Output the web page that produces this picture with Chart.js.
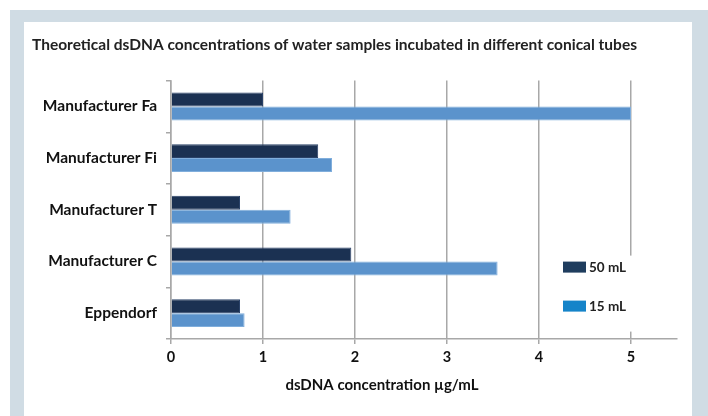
<!DOCTYPE html>
<html>
<head>
<meta charset="utf-8">
<script src="https://cdn.jsdelivr.net/npm/chart.js@4/dist/chart.umd.min.js"></script>
<style>
  html, body { margin:0; padding:0; background:#fff; }
  body { width:708px; height:416px; position:relative; overflow:hidden; }
  #frame { position:absolute; left:10px; top:10px; right:0; bottom:0; background:#d0dce4; }
  #panel { position:absolute; left:24px; top:22px; width:668px; height:394px; background:#fff; }
  canvas { display:block; }
</style>
</head>
<body>
<div id="frame"></div>
<div id="panel"><canvas id="chart" width="668" height="394"></canvas></div>
<script>
// data
const categories = ['Manufacturer Fa', 'Manufacturer Fi', 'Manufacturer T', 'Manufacturer C', 'Eppendorf'];
const series50 = [1.0, 1.6, 0.75, 1.96, 0.75];
const series15 = [5.0, 1.75, 1.3, 3.55, 0.8];
const seriesNames = ['50 mL', '15 mL'];
const xTickValues = [0, 1, 2, 3, 4, 5];
const xMax = 5.5;
const chartTitle = 'Theoretical dsDNA concentrations of water samples incubated in different conical tubes';
const xTitle = 'dsDNA concentration \u00b5g/mL';

const barColors = ['#1b3152', '#5b93cc'];
const barBorders = ['#2a4268', '#80aedc'];
const legendColors = ['#1f3d5e', '#1584c9'];
const gridColor = '#a8a8a8';
const FONT = 'Lato, "Open Sans", sans-serif';

// Excel-like legend sitting inside the plot, plus the x axis title
const overlay = {
  id: 'overlay',
  afterDraw(chart){
    const {ctx, chartArea:a} = chart;
    ctx.save();
    ctx.fillStyle = '#fff';
    ctx.fillRect(a.right - 125, a.top + 175, 98, 76);
    ctx.font = 'bold 13.5px ' + FONT;
    ctx.textBaseline = 'middle';
    ctx.textAlign = 'left';
    seriesNames.forEach((name, i) => {
      const y = a.top + 181 + i * 39;
      ctx.fillStyle = legendColors[i];
      ctx.fillRect(a.right - 114, y, 23, 11);
      ctx.fillStyle = '#222';
      ctx.fillText(name, a.right - 88, y + 6);
    });
    ctx.font = 'bold 15px ' + FONT;
    ctx.textAlign = 'center';
    ctx.fillStyle = '#111';
    ctx.fillText(xTitle, a.left + a.width * 0.417, a.bottom + 46);
    ctx.restore();
  }
};

new Chart(document.getElementById('chart').getContext('2d'), {
  type: 'bar',
  data: {
    labels: categories,
    datasets: [
      {label: seriesNames[0], data: series50, backgroundColor: barColors[0], borderColor: barBorders[0], borderWidth: 1},
      {label: seriesNames[1], data: series15, backgroundColor: barColors[1], borderColor: barBorders[1], borderWidth: 1}
    ]
  },
  options: {
    indexAxis: 'y',
    responsive: false,
    animation: false,
    categoryPercentage: 0.54,
    barPercentage: 1.0,
    layout: {padding: {left: 8, right: 15, top: 0, bottom: 0}},
    plugins: {
      legend: {display: false},
      tooltip: {enabled: false},
      title: {
        display: true,
        text: chartTitle,
        align: 'start',
        color: '#222',
        font: {family: FONT, size: 15.5, weight: 'bold'},
        padding: {top: 14, bottom: 26}
      }
    },
    scales: {
      x: {
        min: 0,
        max: xMax,
        afterBuildTicks(scale){ scale.ticks = xTickValues.map(v => ({value: v})); },
        afterFit(scale){ scale.height = 77; },
        grid: {color: gridColor, lineWidth: 1.5, drawTicks: true, tickLength: 5},
        border: {display: true, color: gridColor, width: 1.5},
        ticks: {color: '#111', padding: 5, font: {family: FONT, size: 14.5, weight: 'bold'}}
      },
      y: {
        afterFit(scale){ scale.width = 139; },
        grid: {drawOnChartArea: false, drawTicks: true, tickLength: 5, color: gridColor, lineWidth: 1.5},
        border: {display: true, color: gridColor, width: 1.5},
        ticks: {color: '#111', padding: 9, font: {family: FONT, size: 15.5, weight: 'bold'}}
      }
    }
  },
  plugins: [overlay]
});
</script>
</body>
</html>
